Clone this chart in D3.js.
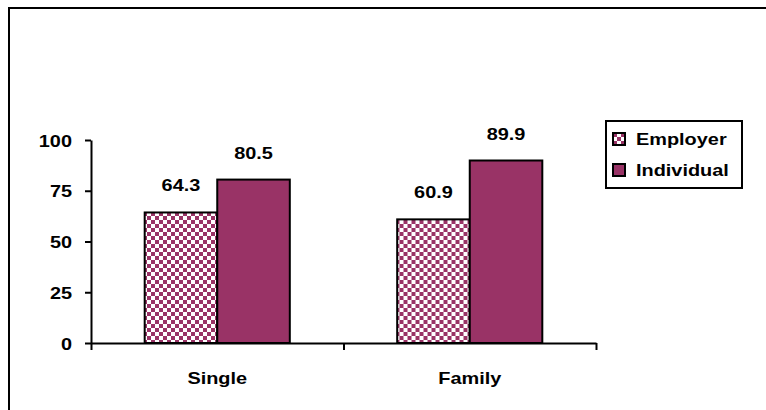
<!DOCTYPE html>
<html><head><meta charset="utf-8">
<script src="https://cdn.jsdelivr.net/npm/d3@7"></script>
<style>
html,body{margin:0;padding:0;background:#fff;}
svg{display:block;}
text{font-family:"Liberation Sans",Arial,sans-serif;font-weight:bold;fill:#000;}
</style></head>
<body>
<script>
const categories = ["Single", "Family"];
const seriesNames = ["Employer", "Individual"];
const employerValues = [64.3, 60.9];
const individualValues = [80.5, 89.9];
const yTicks = [0, 25, 50, 75, 100];

const W = 766, H = 410;
const SX = 1.17, FS = 17;
const purple = "#993366";

const svg = d3.select("body").append("svg").attr("width", W).attr("height", H);
const defs = svg.append("defs");
const pat = defs.append("pattern").attr("id", "checker").attr("patternUnits", "userSpaceOnUse")
  .attr("width", 8).attr("height", 8);
pat.append("rect").attr("width", 8).attr("height", 8).attr("fill", "#fff");
pat.append("rect").attr("width", 4).attr("height", 4).attr("fill", purple);
pat.append("rect").attr("x", 4).attr("y", 4).attr("width", 4).attr("height", 4).attr("fill", purple);

// outer frame
svg.append("rect").attr("x", 9).attr("y", 8).attr("width", 800).attr("height", 500)
  .attr("fill", "none").attr("stroke", "#000").attr("stroke-width", 2);

const x0 = d3.scaleBand().domain(categories).range([91, 596]).paddingInner(0).paddingOuter(0);
const x1 = d3.scaleBand().domain(seriesNames).range([0, x0.bandwidth()]).paddingInner(0).paddingOuter(0.74);
const y = d3.scaleLinear().domain([0, 100]).range([343, 140]);

const fills = {Employer: "url(#checker)", Individual: purple};
const data = categories.map((c, i) => ({cat: c, vals: [
  {s: "Employer", v: employerValues[i]}, {s: "Individual", v: individualValues[i]}]}));

function stretch(sel) {
  sel.each(function() {
    const t = d3.select(this);
    const xx = +t.attr("x") || 0, yy = +t.attr("y") || 0;
    t.attr("x", 0).attr("y", 0).attr("transform", `translate(${xx},${yy}) scale(${SX},1)`);
  });
}

// bars
const g = svg.append("g");
const groups = g.selectAll("g.cat").data(data).join("g").attr("transform", d => `translate(${x0(d.cat)},0)`);
groups.selectAll("rect").data(d => d.vals).join("rect")
  .attr("x", d => x1(d.s)).attr("width", x1.bandwidth())
  .attr("y", d => y(d.v)).attr("height", d => y(0) - y(d.v))
  .attr("fill", d => fills[d.s]).attr("stroke", "#000").attr("stroke-width", 2);
groups.selectAll("text.val").data(d => d.vals).join("text").attr("class", "val")
  .attr("x", d => x1(d.s) + x1.bandwidth() / 2).attr("y", d => y(d.v) - 21)
  .attr("text-anchor", "middle").attr("font-size", FS).text(d => d.v.toFixed(1))
  .call(stretch);

// y axis
const yAxis = svg.append("g").attr("transform", "translate(91,0)")
  .call(d3.axisLeft(y).tickValues(yTicks).tickSize(6).tickSizeOuter(0).tickPadding(13));
yAxis.select(".domain").attr("stroke-width", 2);
yAxis.selectAll(".tick line").attr("stroke-width", 2);
yAxis.selectAll(".tick text").attr("font-size", FS).attr("font-family", null).attr("dy", "0.36em").call(stretch);

// x axis
const xb = d3.scaleLinear().domain([0, categories.length]).range([91, 596]);
const xAxis = svg.append("g").attr("transform", `translate(0,${y(0)})`)
  .call(d3.axisBottom(xb).tickValues(d3.range(categories.length + 1)).tickSize(7).tickSizeOuter(0).tickFormat(""));
xAxis.select(".domain").attr("stroke-width", 2);
xAxis.selectAll(".tick line").attr("stroke-width", 2);
svg.append("g").selectAll("text").data(categories).join("text")
  .attr("x", d => x0(d) + x0.bandwidth() / 2).attr("y", 384)
  .attr("text-anchor", "middle").attr("font-size", FS).text(d => d)
  .call(stretch);

// legend
const lg = svg.append("g");
lg.append("rect").attr("x", 606).attr("y", 121).attr("width", 136).attr("height", 67)
  .attr("fill", "#fff").attr("stroke", "#000").attr("stroke-width", 2);
const items = lg.selectAll("g.item").data(seriesNames).join("g")
  .attr("transform", (d, i) => `translate(613,${133 + i * 31})`);
items.append("rect").attr("width", 12).attr("height", 12)
  .attr("fill", d => fills[d]).attr("stroke", "#000").attr("stroke-width", 2);
items.append("text").attr("x", 23).attr("y", 12).attr("font-size", FS).text(d => d).call(stretch);
</script>
</body></html>
